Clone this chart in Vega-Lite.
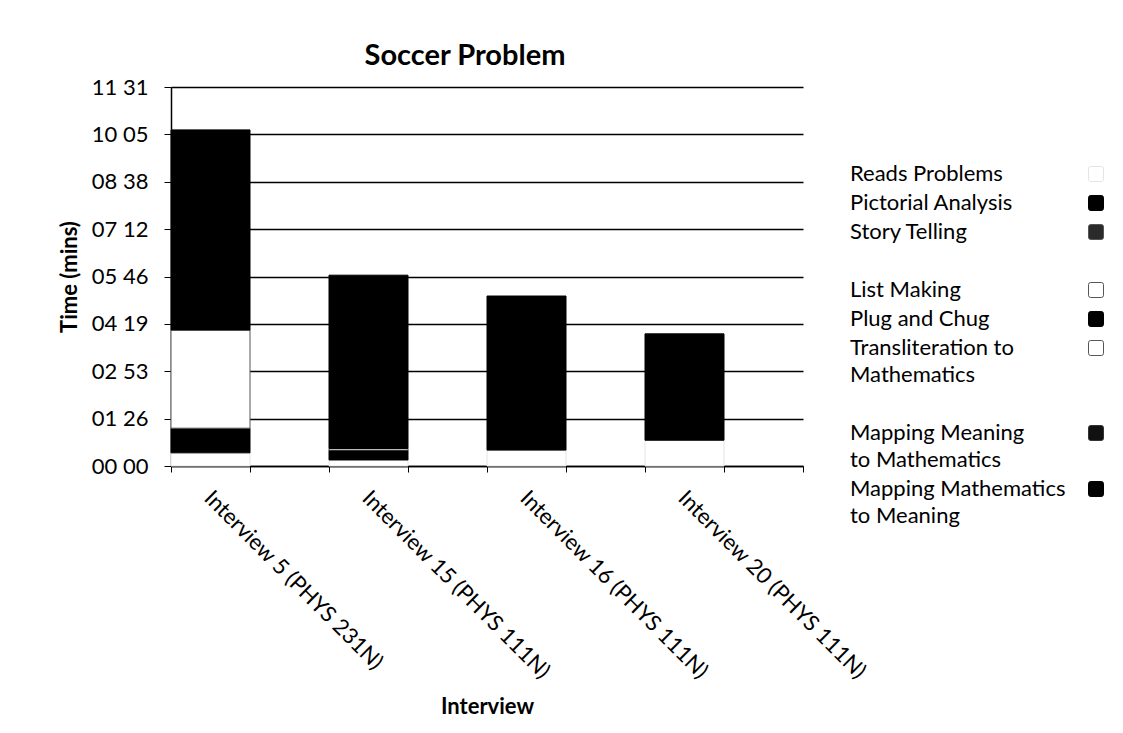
{
  "$schema": "https://vega.github.io/schema/vega-lite/v6.json",
  "width": 632,
  "height": 379,
  "padding": {"left": 58, "top": 42, "right": 5, "bottom": 5},
  "background": "white",
  "title": {
    "text": "Soccer Problem",
    "font": "Lato",
    "fontSize": 29,
    "fontWeight": "bold",
    "color": "black",
    "anchor": "middle",
    "dx": -22,
    "offset": 5
  },
  "data": {
    "values": [
      {"interview": "Interview 5 (PHYS 231N)", "activity": "Reads Problems", "step": 1, "seconds": 24},
      {"interview": "Interview 5 (PHYS 231N)", "activity": "Pictorial Analysis", "step": 2, "seconds": 45},
      {"interview": "Interview 5 (PHYS 231N)", "activity": "List Making", "step": 3, "seconds": 179},
      {"interview": "Interview 5 (PHYS 231N)", "activity": "Plug and Chug", "step": 4, "seconds": 365},
      {"interview": "Interview 15 (PHYS 111N)", "activity": "Reads Problems", "step": 1, "seconds": 11},
      {"interview": "Interview 15 (PHYS 111N)", "activity": "Pictorial Analysis", "step": 2, "seconds": 18},
      {"interview": "Interview 15 (PHYS 111N)", "activity": "List Making", "step": 3, "seconds": 3},
      {"interview": "Interview 15 (PHYS 111N)", "activity": "Plug and Chug", "step": 4, "seconds": 316},
      {"interview": "Interview 16 (PHYS 111N)", "activity": "Reads Problems", "step": 1, "seconds": 29},
      {"interview": "Interview 16 (PHYS 111N)", "activity": "Plug and Chug", "step": 2, "seconds": 281},
      {"interview": "Interview 20 (PHYS 111N)", "activity": "Reads Problems", "step": 1, "seconds": 47},
      {"interview": "Interview 20 (PHYS 111N)", "activity": "Plug and Chug", "step": 2, "seconds": 194}
    ]
  },
  "mark": {"type": "bar", "strokeWidth": 1},
  "encoding": {
    "x": {
      "field": "interview",
      "type": "nominal",
      "title": "Interview",
      "scale": {
        "domain": ["Interview 5 (PHYS 231N)", "gap 1", "Interview 15 (PHYS 111N)", "gap 2", "Interview 16 (PHYS 111N)", "gap 3", "Interview 20 (PHYS 111N)", "gap 4"],
        "paddingInner": 0,
        "paddingOuter": 0
      },
      "axis": {
        "labelAngle": 45,
        "labelAlign": "left",
        "labelBaseline": "top",
        "labelExpr": "indexof(datum.label, 'Interview') == 0 ? datum.label : ''",
        "labelOffset": 4,
        "tickBand": "extent",
        "tickSize": 6,
        "tickColor": "black",
        "tickWidth": 1,
        "domainColor": "black",
        "domainWidth": 1.5,
        "labelFont": "Lato",
        "labelFontSize": 22,
        "labelColor": "black",
        "labelPadding": 15,
        "labelLimit": 400,
        "labelOverlap": false,
        "titleFont": "Lato",
        "titleFontSize": 22,
        "titleFontWeight": "bold",
        "titleColor": "black",
        "titlePadding": 30,
        "grid": false
      }
    },
    "y": {
      "field": "seconds",
      "type": "quantitative",
      "stack": "zero",
      "title": "Time (mins)",
      "scale": {"domain": [0, 691.2], "nice": false},
      "axis": {
        "values": [0, 86.4, 172.8, 259.2, 345.6, 432, 518.4, 604.8, 691.2],
        "labelExpr": "(floor(round(datum.value)/60) < 10 ? '0' : '') + floor(round(datum.value)/60) + ' ' + (round(datum.value) % 60 < 10 ? '0' : '') + (round(datum.value) % 60)",
        "grid": true,
        "gridColor": "black",
        "gridWidth": 1.5,
        "gridOpacity": 1,
        "tickColor": "black",
        "tickSize": 7,
        "domainColor": "black",
        "domainWidth": 1.5,
        "labelFont": "Lato",
        "labelFontSize": 22,
        "labelColor": "black",
        "labelPadding": 16,
        "titleFont": "Lato",
        "titleFontSize": 22,
        "titleFontWeight": "bold",
        "titleColor": "black",
        "titlePadding": 10
      }
    },
    "fill": {
      "field": "activity",
      "type": "nominal",
      "scale": {
        "domain": ["Reads Problems", "Pictorial Analysis", "Story Telling", "gap A", "List Making", "Plug and Chug", "Transliteration to Mathematics", "gap B", "Mapping Meaning to Mathematics", "Mapping Mathematics to Meaning"],
        "range": ["#ffffff", "#000000", "#2b2b2b", "#ffffff", "#ffffff", "#000000", "#ffffff", "#ffffff", "#111111", "#000000"]
      },
      "legend": {
        "title": null,
        "orient": "none",
        "legendX": 673,
        "legendY": 76,
        "symbolOffset": 241,
        "labelOffset": -257,
        "rowPadding": 7,
        "encode": {"labels": {"update": {"lineHeight": {"value": 27}}}},
        "labelExpr": "indexof(datum.label, 'gap') == 0 ? ' ' : datum.label == 'Transliteration to Mathematics' ? ['Transliteration to', 'Mathematics'] : datum.label == 'Mapping Meaning to Mathematics' ? ['Mapping Meaning', 'to Mathematics'] : datum.label == 'Mapping Mathematics to Meaning' ? ['Mapping Mathematics', 'to Meaning'] : datum.label"
      }
    },
    "stroke": {
      "field": "activity",
      "type": "nominal",
      "scale": {
        "domain": ["Reads Problems", "Pictorial Analysis", "Story Telling", "gap A", "List Making", "Plug and Chug", "Transliteration to Mathematics", "gap B", "Mapping Meaning to Mathematics", "Mapping Mathematics to Meaning"],
        "range": ["#e4e4e4", "#000000", "#555555", "#ffffff", "#555555", "#000000", "#555555", "#ffffff", "#333333", "#000000"]
      },
      "legend": {
        "title": null,
        "orient": "none",
        "legendX": 673,
        "legendY": 76,
        "symbolOffset": 241,
        "labelOffset": -257,
        "rowPadding": 7,
        "encode": {"labels": {"update": {"lineHeight": {"value": 27}}}},
        "labelExpr": "indexof(datum.label, 'gap') == 0 ? ' ' : datum.label == 'Transliteration to Mathematics' ? ['Transliteration to', 'Mathematics'] : datum.label == 'Mapping Meaning to Mathematics' ? ['Mapping Meaning', 'to Mathematics'] : datum.label == 'Mapping Mathematics to Meaning' ? ['Mapping Mathematics', 'to Meaning'] : datum.label"
      }
    },
    "order": {"field": "step", "type": "quantitative"}
  },
  "config": {
    "legend": {
      "symbolType": "M -0.7 -1 L 0.7 -1 Q 1 -1 1 -0.7 L 1 0.7 Q 1 1 0.7 1 L -0.7 1 Q -1 1 -1 0.7 L -1 -0.7 Q -1 -1 -0.7 -1 Z",
      "symbolSize": 225,
      "symbolStrokeWidth": 1,
      "labelFont": "Lato",
      "labelFontSize": 22,
      "labelColor": "black",
      "labelLimit": 400
    },
    "view": {"stroke": null}
  }
}
